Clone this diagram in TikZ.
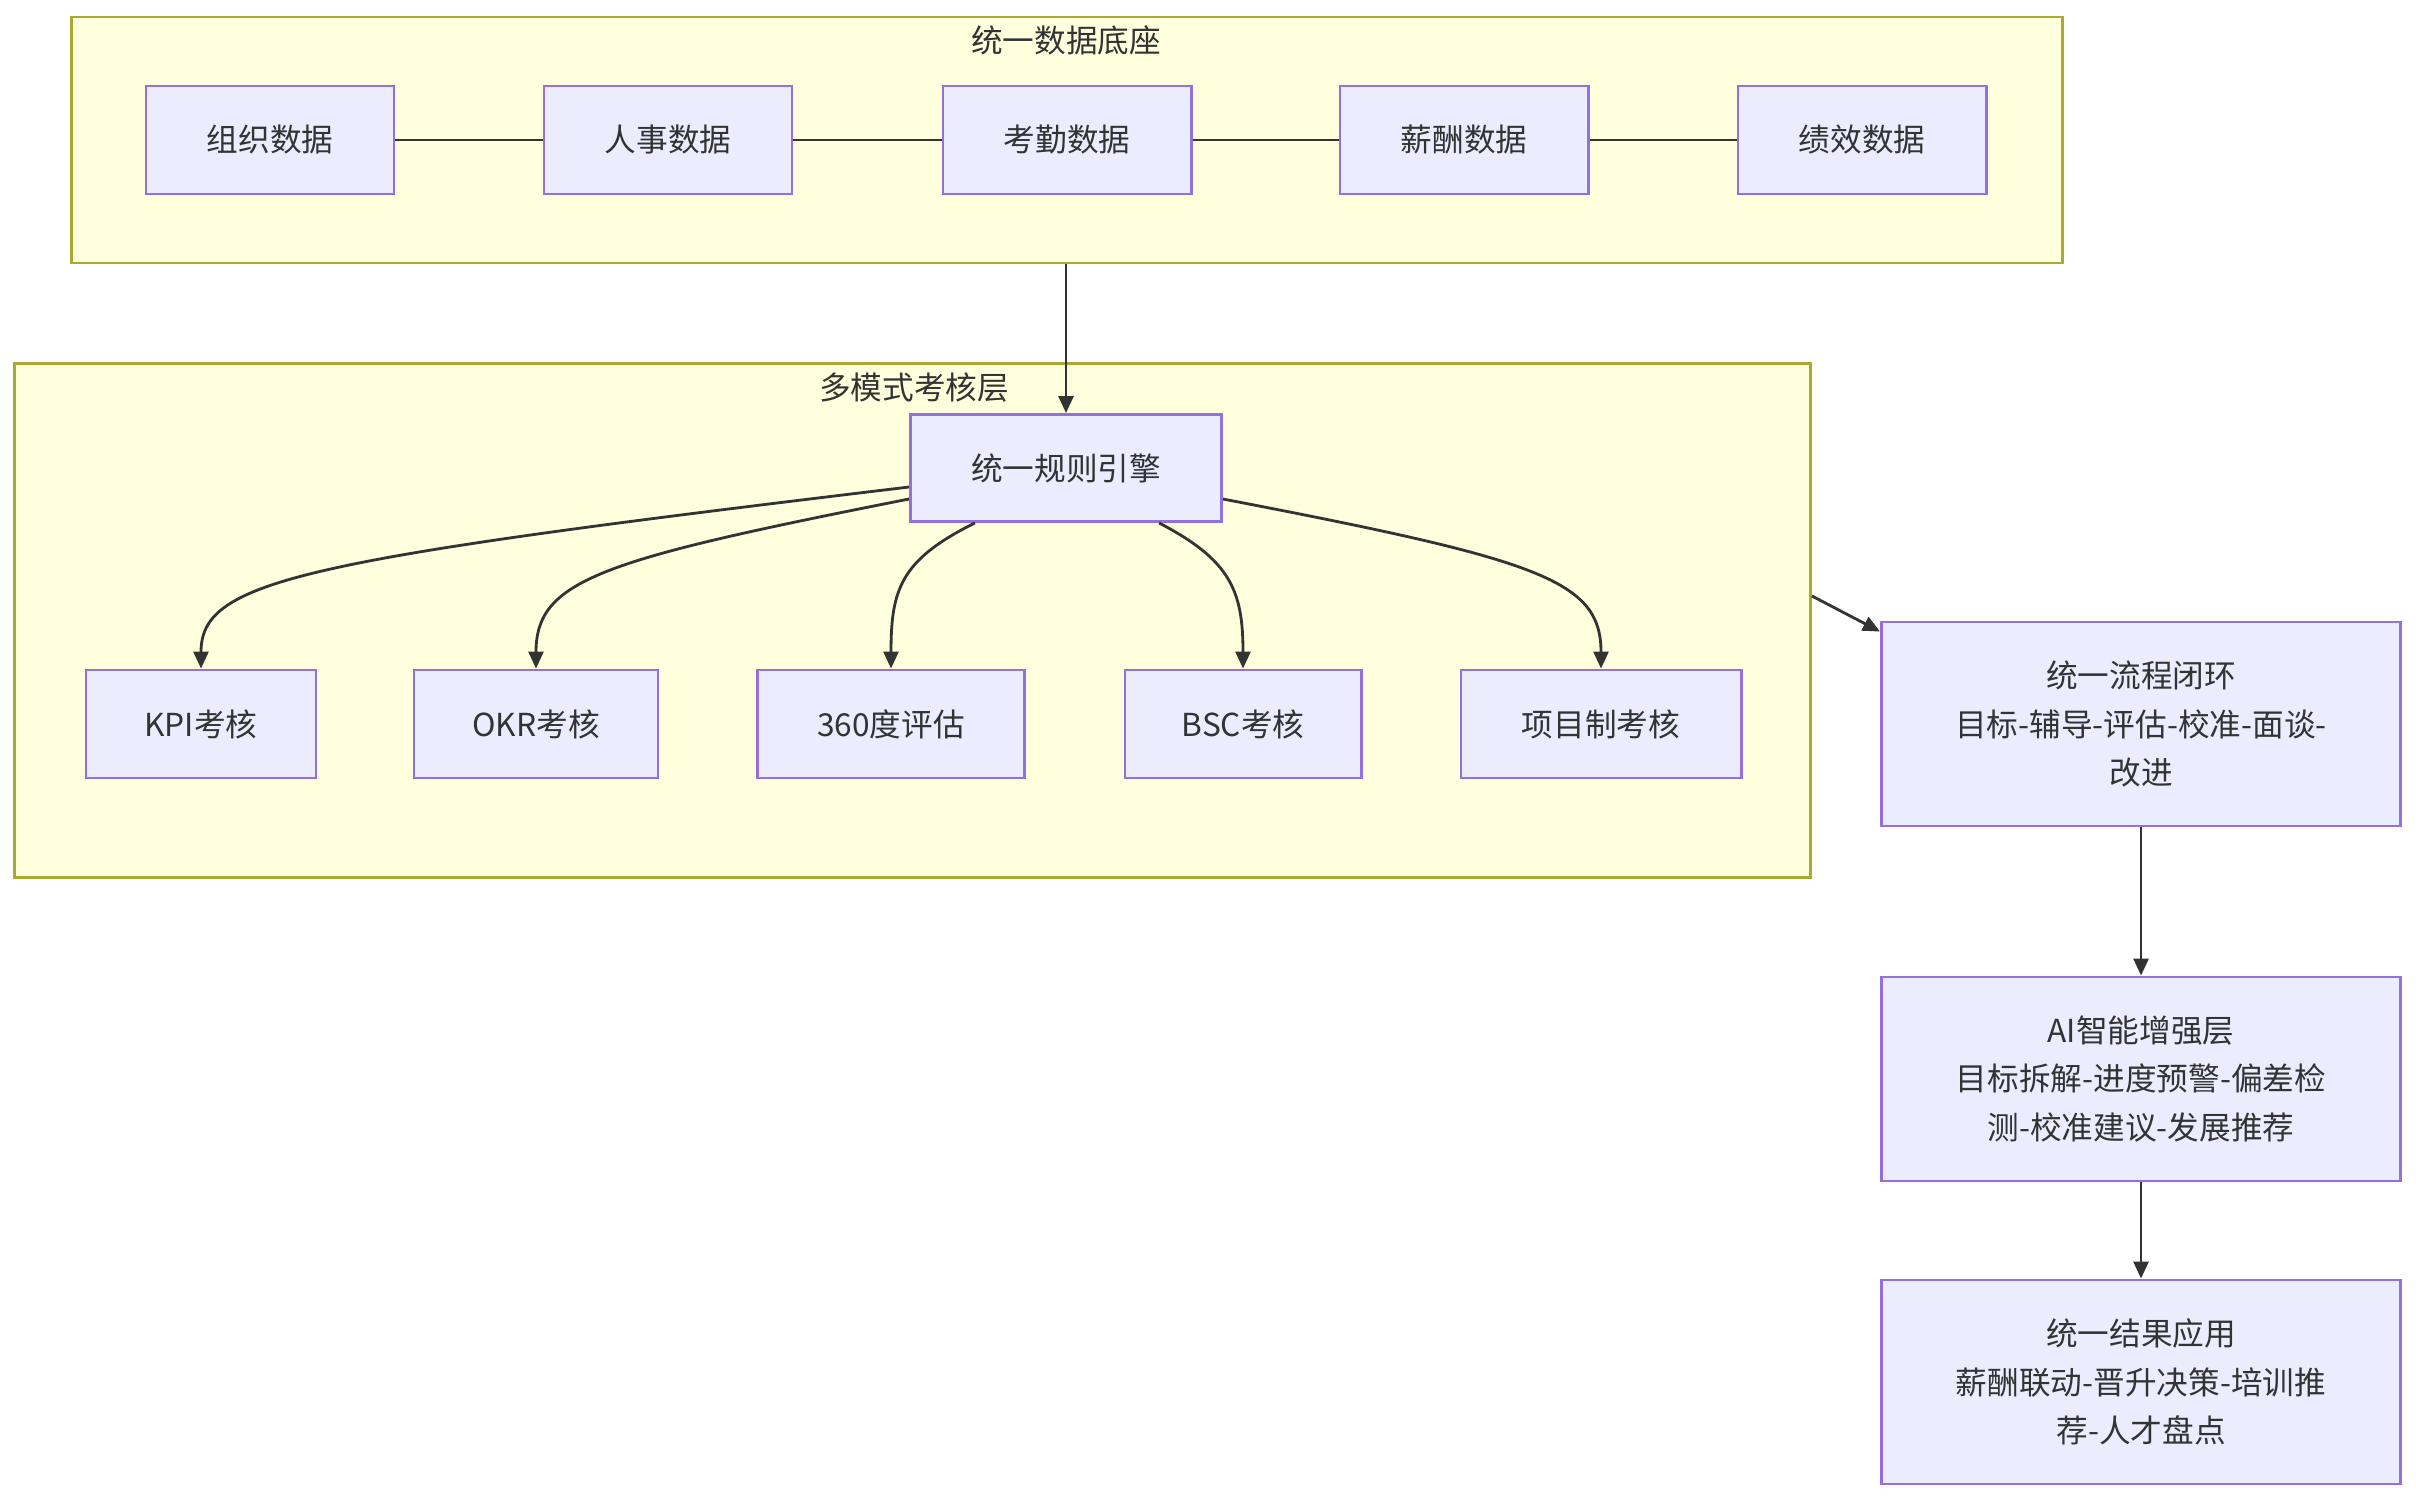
\documentclass[tikz,border=0pt]{standalone}
\usepackage{fontspec}
\setmainfont{Noto Sans CJK SC}
\usetikzlibrary{arrows.meta}
\definecolor{clusterfill}{HTML}{FFFFDE}
\definecolor{clusterline}{HTML}{AAAA33}
\definecolor{boxfill}{HTML}{ECECFF}
\definecolor{boxline}{HTML}{9370DB}
\definecolor{inkgray}{HTML}{333333}
\tikzset{
  cluster/.style={draw=clusterline, fill=clusterfill, line width=0.8pt, inner sep=0pt},
  box/.style={draw=boxline, fill=boxfill, line width=0.8pt, inner sep=0pt, align=center, minimum height=1.08cm},
  link/.style={draw=inkgray, line width=0.8pt},
  flow/.style={link, -{Triangle[length=0.17cm,width=0.15cm]}},
}

\begin{document}
\begin{tikzpicture}[x=0.01cm, y=-0.01cm, text=inkgray, font=\fontsize{9}{13.8}\selectfont]
    \fill[white] (0,0) rectangle (2416,1500);
    \useasboundingbox (0,0) rectangle (2416,1500);

    % data layer
    \node[cluster, minimum width=19.9cm, minimum height=2.46cm] (dibase) at (1067,140) {};
    \node (dibaset) at (1066,40) {统一数据底座};
    \node[box, minimum width=2.48cm] (zuzhi) at (270,140) {组织数据};
    \node[box, minimum width=2.48cm] (renshi) at (668,140) {人事数据};
    \node[box, minimum width=2.48cm] (kaoqin) at (1067,140) {考勤数据};
    \node[box, minimum width=2.48cm] (xinchou) at (1464,140) {薪酬数据};
    \node[box, minimum width=2.48cm] (jixiao) at (1862,140) {绩效数据};
    \draw[link] (zuzhi) -- (renshi);
    \draw[link] (renshi) -- (kaoqin);
    \draw[link] (kaoqin) -- (xinchou);
    \draw[link] (xinchou) -- (jixiao);

    % assessment layer
    \node[cluster, minimum width=17.95cm, minimum height=5.13cm] (kaohe) at (912.5,620.5) {};
    \node (kaohet) at (914,388) {多模式考核层};
    \node[box, minimum width=3.11cm, minimum height=1.07cm] (guize) at (1066,468) {统一规则引擎};
    \node[box, minimum width=2.30cm] (kpi) at (201,724) {KPI考核};
    \node[box, minimum width=2.44cm] (okr) at (536,724) {OKR考核};
    \node[box, minimum width=2.67cm] (quan) at (891,724) {360度评估};
    \node[box, minimum width=2.36cm] (bsc) at (1243,724) {BSC考核};
    \node[box, minimum width=2.80cm] (xiangmu) at (1601,724) {项目制考核};

    \draw[flow] (dibase.south -| guize.north) -- (guize.north);
    \draw[flow] ([yshift=-0.19cm]guize.west) .. controls (300,560) and (201,580) .. (kpi.north);
    \draw[flow] ([yshift=-0.31cm]guize.west) .. controls (600,560) and (536,580) .. (okr.north);
    \draw[flow] ([xshift=-0.91cm]guize.south) .. controls (900,560) and (891,590) .. (quan.north);
    \draw[flow] ([xshift=0.93cm]guize.south) .. controls (1230,560) and (1243,590) .. (bsc.north);
    \draw[flow] ([yshift=-0.31cm]guize.east) .. controls (1540,560) and (1601,580) .. (xiangmu.north);

    % closed loop
    \node[box, minimum width=5.19cm, minimum height=2.04cm] (liucheng) at (2141,724) {统一流程闭环\\目标-辅导-评估-校准-面谈-\\改进};
    \node[box, minimum width=5.19cm, minimum height=2.04cm] (zhineng) at (2141,1079) {AI智能增强层\\目标拆解-进度预警-偏差检\\测-校准建议-发展推荐};
    \node[box, minimum width=5.19cm, minimum height=2.04cm] (jieguo) at (2141,1382) {统一结果应用\\薪酬联动-晋升决策-培训推\\荐-人才盘点};

    \draw[flow] ([yshift=0.245cm]kaohe.east) -- ([yshift=-0.11cm]liucheng.north west);
    \draw[flow] (liucheng) -- (zhineng);
    \draw[flow] (zhineng) -- (jieguo);
\end{tikzpicture}
\end{document}
